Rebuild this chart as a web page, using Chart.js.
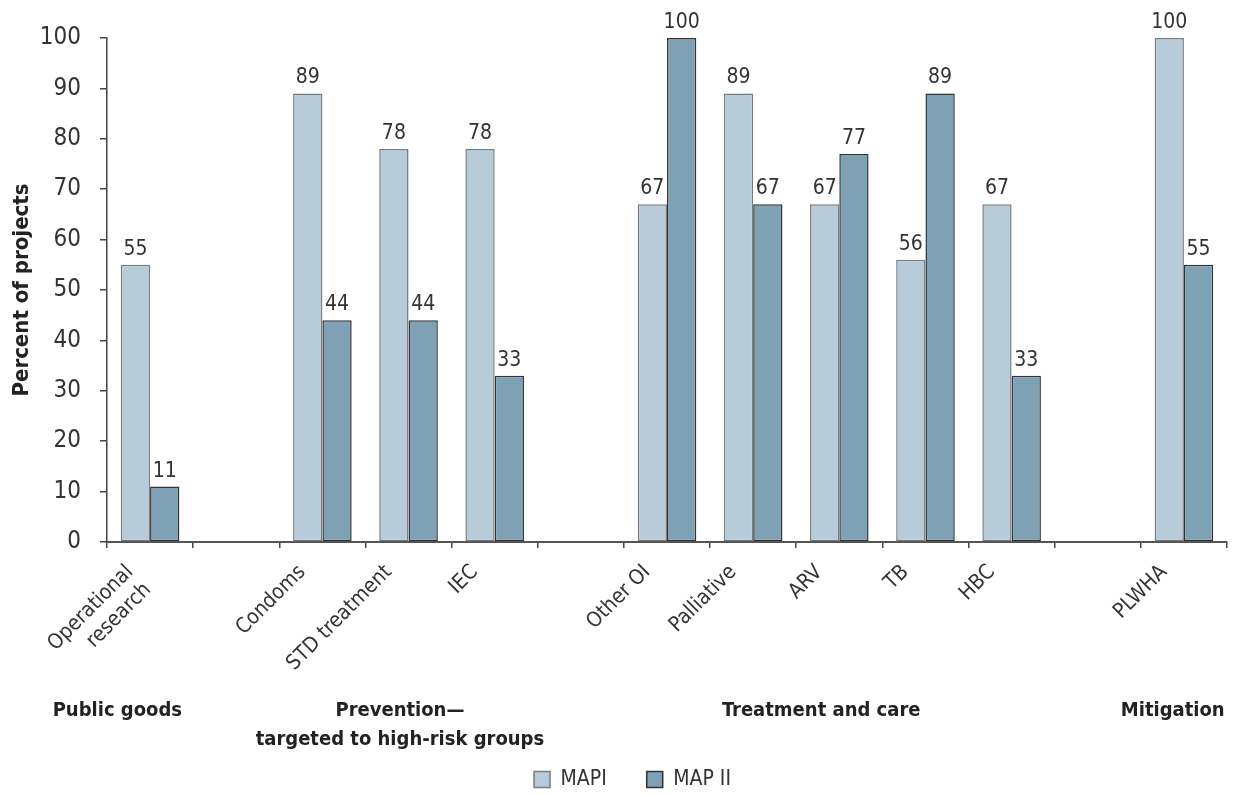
<!DOCTYPE html>
<html>
<head>
<meta charset="utf-8">
<script src="https://cdn.jsdelivr.net/npm/chart.js@4.4.1/dist/chart.umd.min.js"></script>
<style>
  html, body { margin: 0; padding: 0; background: #fff; }
  #wrap { width: 1236px; height: 795px; }
</style>
</head>
<body>
<div id="wrap"><canvas id="myChart" width="1236" height="795"></canvas></div>
<script>
// categories (blank ones are the gaps between groups)
var categories = [['Operational', 'research'], '', 'Condoms', 'STD treatment', 'IEC', '',
    'Other OI', 'Palliative', 'ARV', 'TB', 'HBC', '', 'PLWHA'];
var mapI = [55, null, 89, 78, 78, null, 67, 89, 67, 56, 67, null, 100];
var mapII = [11, null, 44, 44, 33, null, 100, 67, 77, 89, 33, null, 55];
var yTicks = [0, 10, 20, 30, 40, 50, 60, 70, 80, 90, 100];
var groups = [['Public goods'], ['Prevention\u2014', 'targeted to high-risk groups'], ['Treatment and care'], ['Mitigation']];

var FONT = "'Liberation Sans Narrow', 'DejaVu Sans Condensed', 'Roboto Condensed', sans-serif";

// where each group label sits, as a category index
var groupAt = [-0.38, 2.9, 7.79, 11.87];

var valueLabels = {
    id: 'valueLabels',
    afterDatasetsDraw: function (chart) {
        var ctx = chart.ctx;
        ctx.save();
        ctx.font = '21px ' + FONT;
        ctx.fillStyle = '#333';
        ctx.textAlign = 'center';
        ctx.textBaseline = 'bottom';
        chart.data.datasets.forEach(function (ds, i) {
            var meta = chart.getDatasetMeta(i);
            meta.data.forEach(function (bar, j) {
                if (ds.data[j] == null) return;
                ctx.fillText(ds.data[j], bar.x, bar.y - 5);
            });
        });
        ctx.restore();
    }
};

var groupLabels = {
    id: 'groupLabels',
    afterLayout: function (chart) {
        // nudge the legend a bit right and down, like the original
        chart.legend.left += 19;
        chart.legend.right += 19;
        chart.legend.top += 5;
        chart.legend.bottom += 5;
    },
    afterDraw: function (chart) {
        var ctx = chart.ctx;
        var x = chart.scales.x;
        ctx.save();
        ctx.font = 'bold 20px ' + FONT;
        ctx.fillStyle = '#222';
        ctx.textAlign = 'center';
        ctx.textBaseline = 'middle';
        groups.forEach(function (lines, i) {
            var px = x.getPixelForValue(groupAt[i]);
            lines.forEach(function (t, k) {
                ctx.fillText(t, px, 711 + k * 29);
            });
        });
        ctx.restore();
    }
};

var ctx = document.getElementById('myChart').getContext('2d');
var myChart = new Chart(ctx, {
    type: 'bar',
    data: {
        labels: categories,
        datasets: [{
            label: 'MAPI',
            data: mapI,
            backgroundColor: '#b8cbd8',
            borderColor: '#777c80',
            borderWidth: 1.5,
            borderSkipped: false
        }, {
            label: 'MAP II',
            data: mapII,
            backgroundColor: '#7fa1b5',
            borderColor: '#333',
            borderWidth: 1.5,
            borderSkipped: false
        }]
    },
    options: {
        responsive: false,
        animation: false,
        layout: { padding: { top: 38, right: 9, left: 0, bottom: 0 } },
        datasets: { bar: { categoryPercentage: 0.68, barPercentage: 1.0 } },
        plugins: {
            tooltip: { enabled: false },
            legend: {
                position: 'bottom',
                labels: {
                    font: { family: FONT, size: 21 },
                    color: '#333',
                    boxWidth: 16,
                    boxHeight: 16,
                    padding: 40
                }
            }
        },
        scales: {
            x: {
                grid: {
                    display: true,
                    drawOnChartArea: false,
                    offset: true,
                    tickLength: 6,
                    color: '#444',
                    lineWidth: 1.5
                },
                border: { color: '#555', width: 2 },
                ticks: {
                    font: { family: FONT, size: 21 },
                    color: '#333',
                    maxRotation: 45,
                    minRotation: 45,
                    padding: 12,
                    labelOffset: -20,
                    autoSkip: false
                },
                afterFit: function (scale) { scale.height = 182; }
            },
            y: {
                min: 0,
                max: 100,
                afterBuildTicks: function (scale) {
                    scale.ticks = yTicks.map(function (v) { return { value: v }; });
                },
                grid: {
                    display: true,
                    drawOnChartArea: false,
                    tickLength: 7,
                    color: '#444',
                    lineWidth: 1.5
                },
                border: { color: '#444', width: 1.5 },
                ticks: {
                    font: { family: FONT, size: 24 },
                    color: '#333',
                    padding: 19
                },
                title: {
                    display: true,
                    text: 'Percent of projects',
                    font: { family: FONT, size: 22, weight: 'bold' },
                    color: '#222',
                    padding: { top: 9, bottom: 0 }
                },
                afterFit: function (scale) { scale.width = 107; }
            }
        }
    },
    plugins: [valueLabels, groupLabels]
});
</script>
</body>
</html>
